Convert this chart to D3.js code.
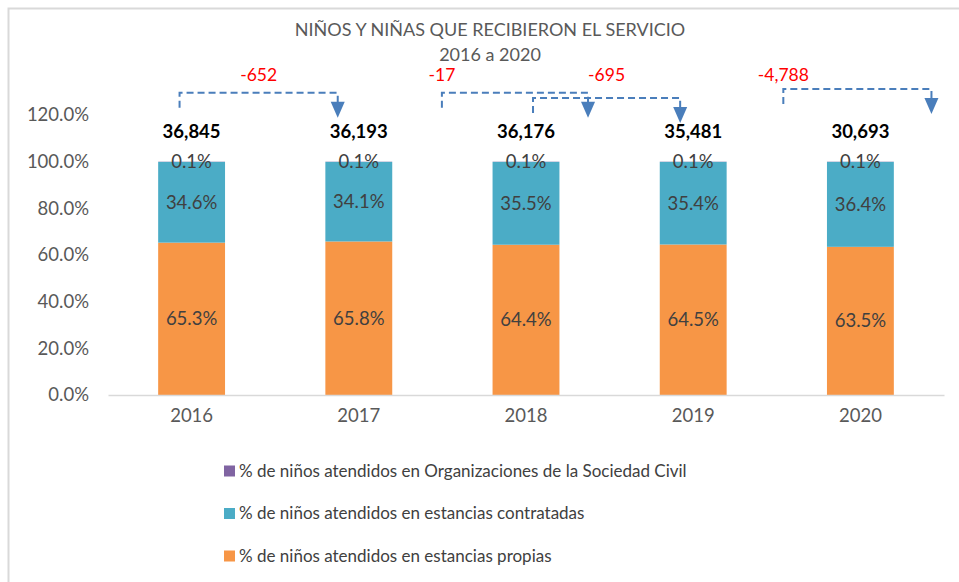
<!DOCTYPE html>
<html>
<head>
<meta charset="utf-8">
<script src="https://cdn.jsdelivr.net/npm/d3@7"></script>
<style>
  body { margin: 0; background: #fff; }
  svg text { font-family: Lato, 'Open Sans', sans-serif; }
</style>
</head>
<body>
<div id="chart"></div>
<script>
const years = ['2016', '2017', '2018', '2019', '2020'];
const propias = [65.3, 65.8, 64.4, 64.5, 63.5];
const contratadas = [34.6, 34.1, 35.5, 35.4, 36.4];
const osc = [0.1, 0.1, 0.1, 0.1, 0.1];
const totals = [36845, 36193, 36176, 35481, 30693];
const yTicks = [0, 20, 40, 60, 80, 100, 120];
const seriesNames = [
  '% de niños atendidos en Organizaciones de la Sociedad Civil',
  '% de niños atendidos en estancias contratadas',
  '% de niños atendidos en estancias propias'
];

const W = 959, H = 582;
const margin = { top: 115, right: 15, bottom: 187, left: 108 };
const width = W - margin.left - margin.right;
const height = H - margin.top - margin.bottom;

// hyphen minus like the original
const fmt = d3.formatLocale({ decimal: '.', thousands: ',', grouping: [3], currency: ['$', ''], minus: '-' }).format(',');

const svg = d3.select('#chart').append('svg')
  .attr('width', W).attr('height', H);

// outer border
svg.append('rect')
  .attr('x', 8.5).attr('y', 8.5).attr('width', W + 10).attr('height', H + 10)
  .attr('fill', 'none').attr('stroke', '#d9d9d9').attr('stroke-width', 2);

// Title
svg.append('text').attr('x', 490).attr('y', 36)
  .attr('text-anchor', 'middle').attr('fill', '#595959').attr('font-size', 18)
  .text('NIÑOS Y NIÑAS QUE RECIBIERON EL SERVICIO');
svg.append('text').attr('x', 490).attr('y', 61)
  .attr('text-anchor', 'middle').attr('fill', '#595959').attr('font-size', 18)
  .text('2016 a 2020');

const g = svg.append('g').attr('transform', `translate(${margin.left},${margin.top})`);

const x = d3.scaleBand().domain(years).range([0, width]).padding(0);
const y = d3.scaleLinear().domain([0, 120]).range([height, 0]);
const step = x.step();
const barW = step * 0.4;
const cx = i => x(years[i]) + step / 2;

// stacked data
const rows = years.map((yr, i) => ({ year: yr, propias: propias[i], contratadas: contratadas[i], osc: osc[i] }));
const keys = ['propias', 'contratadas', 'osc'];
const colors = { propias: '#f79646', contratadas: '#4bacc6', osc: '#8064a2' };
const stack = d3.stack().keys(keys)(rows);

// Y axis labels
const yAxis = g.append('g')
  .call(d3.axisLeft(y).tickValues(yTicks).tickSize(0).tickPadding(19).tickFormat(d => d.toFixed(1) + '%'));
yAxis.select('.domain').remove();
yAxis.selectAll('text').attr('fill', '#595959').attr('font-size', 18.5)
  .style('font-family', 'Lato, sans-serif');

// Bars
stack.forEach(layer => {
  g.selectAll(null).data(layer).enter().append('rect')
    .attr('x', d => x(d.data.year) + (step - barW) / 2)
    .attr('y', d => y(d[1]))
    .attr('width', barW)
    .attr('height', d => Math.max(0, y(d[0]) - y(d[1])))
    .attr('fill', colors[layer.key]);
});

// Segment labels
stack.forEach(layer => {
  g.selectAll(null).data(layer).enter().append('text')
    .attr('x', d => x(d.data.year) + step / 2)
    .attr('y', d => (y(d[0]) + y(d[1])) / 2)
    .attr('dy', '0.35em')
    .attr('text-anchor', 'middle')
    .attr('fill', '#404040').attr('font-size', 18.5)
    .text(d => d.data[layer.key].toFixed(1) + '%');
});

// X axis
const xAxis = g.append('g').attr('transform', `translate(0,${height})`)
  .call(d3.axisBottom(x).tickSize(0).tickPadding(14));
xAxis.select('.domain').attr('stroke', '#d9d9d9').attr('stroke-width', 1.5);
xAxis.selectAll('text').attr('fill', '#595959').attr('font-size', 18.5)
  .style('font-family', 'Lato, sans-serif');

// Totals
g.selectAll(null).data(totals).enter().append('text')
  .attr('x', (d, i) => cx(i))
  .attr('y', y(100) - 30)
  .attr('dy', '0.35em')
  .attr('text-anchor', 'middle')
  .attr('fill', '#000').attr('font-weight', 'bold').attr('font-size', 18.5)
  .text(d => fmt(d));

// Change connectors (hand placed in original; offsets in band steps)
const connFrom = [0, 1, 2, 3];
const connStartOff = [-0.072, 0.497, 0.042, 0.539];
const connEndOff = [-0.126, 0.371, -0.078, 0.425];
const connLevel = [129.5, 129.5, 127.3, 131.1];
const labelAtStart = [false, true, false, true];
const blue = '#4a7ebb';

connFrom.forEach((f, k) => {
  const t = f + 1;
  const x0 = cx(f) + connStartOff[k] * step;
  const x1 = cx(t) + connEndOff[k] * step;
  const yl = y(connLevel[k]);
  const path = d3.path();
  path.moveTo(x0, yl + 15);
  path.lineTo(x0, yl);
  path.lineTo(x1, yl);
  path.lineTo(x1, yl + 10);
  g.append('path').attr('d', path.toString())
    .attr('fill', 'none').attr('stroke', blue).attr('stroke-width', 2)
    .attr('stroke-dasharray', '7,4');
  g.append('path')
    .attr('d', `M${x1 - 7},${yl + 9}L${x1 + 7},${yl + 9}L${x1},${yl + 25}Z`)
    .attr('fill', blue);
  g.append('text')
    .attr('x', labelAtStart[k] ? x0 : (x0 + x1) / 2)
    .attr('y', y(129.5) - 12)
    .attr('text-anchor', 'middle')
    .attr('fill', '#ff0000').attr('font-size', 17.5)
    .text(fmt(totals[t] - totals[f]));
});

// Legend
const legendColors = ['#8064a2', '#4bacc6', '#f79646'];
const lg = svg.append('g').attr('transform', 'translate(224,471)');
seriesNames.forEach((name, i) => {
  const row = lg.append('g').attr('transform', `translate(0,${i * 42.5})`);
  row.append('rect').attr('x', 0).attr('y', -5.5).attr('width', 11).attr('height', 11)
    .attr('fill', legendColors[i]);
  row.append('text').attr('x', 15).attr('y', 0).attr('dy', '0.35em')
    .attr('fill', '#404040').attr('font-size', 17).text(name);
});
</script>
</body>
</html>
